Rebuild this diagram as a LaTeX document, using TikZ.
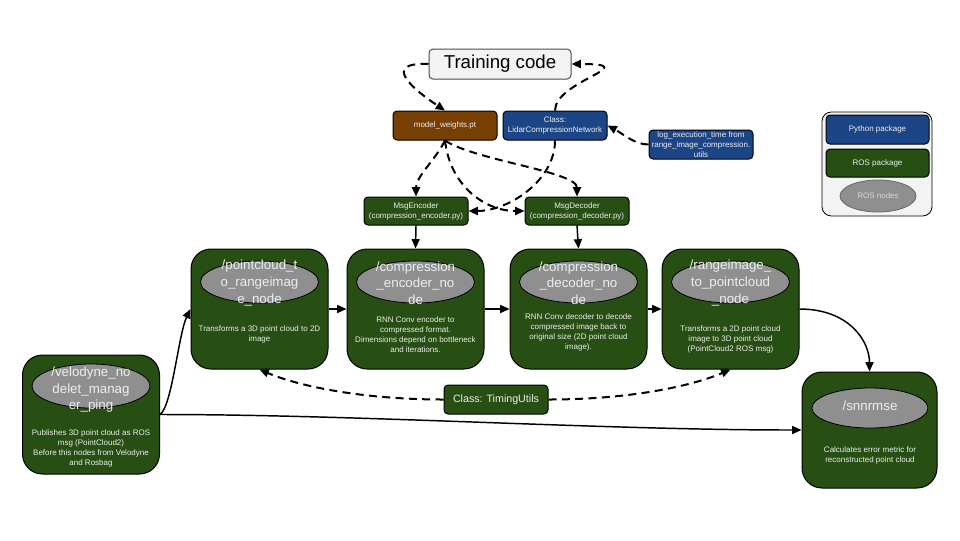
\documentclass[tikz,border=0pt]{standalone}
\usepackage{fontspec}
\setmainfont{Liberation Sans}
\usetikzlibrary{arrows.meta,shapes.geometric}
\definecolor{rosgreen}{HTML}{274E13}
\definecolor{pyblue}{HTML}{1C4587}
\definecolor{wbrown}{HTML}{783F04}
\definecolor{nodegray}{HTML}{8F8F8F}
\definecolor{lightbg}{HTML}{F3F3F3}
\definecolor{boxtext}{HTML}{EEEEEE}
\begin{document}
\begin{tikzpicture}[x=0.75pt,y=-0.75pt,
  rosbox/.style={draw=black, line width=0.75pt, fill=rosgreen, rounded corners=15pt, minimum width=102.75pt, minimum height=90pt, inner sep=0pt},
  smallbox/.style={draw=black, line width=0.75pt, rounded corners=3pt, minimum width=78pt, minimum height=21.75pt, inner sep=1pt, align=center, text=boxtext, font=\fontsize{6}{7.5}\selectfont},
  rosnode/.style={ellipse, draw=black, line width=0.6pt, fill=nodegray, minimum width=88.5pt, minimum height=31.5pt, inner sep=0pt},
  nodetext/.style={align=center, text=boxtext, font=\fontsize{10}{12.4}\selectfont, inner sep=0pt},
  desc/.style={align=center, text=boxtext, font=\fontsize{6}{7.5}\selectfont, inner sep=0pt},
  dep/.style={line width=1.5pt, dash pattern=on 6pt off 4pt, -{Triangle[length=7pt,width=6pt]}},
  flow/.style={line width=1.1pt, -{Triangle[length=7pt,width=6pt]}},
]
\fill[white] (0,0) rectangle (960,540);
\useasboundingbox (0,0) rectangle (960,540);

% top
\node[draw=black!70, line width=0.75pt, fill=lightbg, rounded corners=3pt, minimum width=106.5pt, minimum height=22.5pt, font=\fontsize{14}{16}\selectfont] (train) at (500,64) {Training code};
\node[smallbox, fill=wbrown] (mw) at (445,125.5) {model\_weights.pt};
\node[smallbox, fill=pyblue] (lidar) at (555,125.5) {Class:\\LidarCompressionNetwork};
\node[smallbox, fill=pyblue] (log) at (701,144.5) {log\_execution\_time from\\range\_image\_compression.\\utils};
\node[smallbox, fill=rosgreen, minimum height=21pt] (menc) at (416,211) {MsgEncoder\\(compression\_encoder.py)};
\node[smallbox, fill=rosgreen, minimum height=21pt] (mdec) at (577,211) {MsgDecoder\\(compression\_decoder.py)};

% main row
\node[rosbox] (b1) at (259.5,309) {};
\node[rosnode] (e1) at (259.5,282) {};
\node[nodetext] (n1) at (259.5,283) {/pointcloud\_t\\o\_rangeimag\\e\_node};
\node[desc] (d1) at (259.5,334) {Transforms a 3D point cloud to 2D\\image};

\node[rosbox] (b2) at (415.5,309) {};
\node[rosnode] (e2) at (415.5,282) {};
\node[nodetext] (n2) at (415.5,283) {/compression\\\_encoder\_no\\de};
\node[desc] (d2) at (415.5,335) {RNN Conv encoder to\\compressed format.\\Dimensions depend on bottleneck\\and iterations.};

\node[rosbox] (b3) at (578.5,309) {};
\node[rosnode] (e3) at (578.5,282) {};
\node[nodetext] (n3) at (578.5,283) {/compression\\\_decoder\_no\\de};
\node[desc] (d3) at (578.5,332) {RNN Conv decoder to decode\\compressed image back to\\original size (2D point cloud\\image).};

\node[rosbox] (b4) at (730.5,309) {};
\node[rosnode] (e4) at (730.5,282) {};
\node[nodetext] (n4) at (730.5,283) {/rangeimage\_\\to\_pointcloud\\\_node};
\node[desc] (d4) at (730.5,339) {Transforms a 2D point cloud\\image to 3D point cloud\\(PointCloud2 ROS msg)};

% velodyne
\node[rosbox, minimum height=89.25pt] (b0) at (91,414.5) {};
\node[rosnode, minimum height=33pt] (e0) at (91,386) {};
\node[nodetext] (n0) at (91,390) {/velodyne\_no\\delet\_manag\\er\_ping};
\node[desc] (d0) at (91,448) {Publishes 3D point cloud as ROS\\msg (PointCloud2)\\Before this nodes from Velodyne\\and Rosbag};

% snnrmse
\node[rosbox, minimum width=101.25pt, minimum height=87pt] (b5) at (869.5,430) {};
\node[rosnode, minimum width=87pt, minimum height=30pt] (e5) at (870,408) {};
\node[nodetext] (n5) at (870,406) {/snnrmse};
\node[desc] (d5) at (870,455) {Calculates error metric for\\reconstructed point cloud};

% timing utils
\node[smallbox, fill=rosgreen, font=\fontsize{8}{10}\selectfont] (tu) at (496,399.5) {Class: TimingUtils};

% legend
\node[draw=black, line width=0.6pt, fill=lightbg, rounded corners=7pt, minimum width=82.5pt, minimum height=78pt] (leg) at (877,164) {};
\node[smallbox, fill=pyblue, minimum width=77.25pt, minimum height=21.75pt] (lpy) at (877.5,129.5) {Python package};
\node[smallbox, fill=rosgreen, minimum width=77.25pt, minimum height=21pt] (lros) at (877.5,163) {ROS package};
\node[ellipse, draw=black!60, line width=0.6pt, fill=nodegray, minimum width=57pt, minimum height=24pt, inner sep=0pt, text=black!15, font=\fontsize{6}{7.5}\selectfont] (lnode) at (878,196) {ROS nodes};

% dependency connectors (dashed)
\draw[dep] (train.west) .. controls (380,62) and (414,90) .. (mw.north);
\draw[dep] (lidar.north) .. controls +(0,-30) and +(75,0) .. (train.east);
\draw[dep] (log.west) .. controls +(-14,0) and +(15,8) .. (lidar.east);
\draw[dep] (mw.south) .. controls +(-10,20) and +(0,-20) .. (menc.north);
\draw[dep] (mw.south) .. controls +(5,45) and +(-40,0) .. (mdec.west);
\draw[dep] (mw.south) .. controls +(30,20) and +(0,-25) .. (mdec.north);
\draw[dep] (lidar.south) .. controls +(0,40) and +(40,0) .. (menc.east);
\draw[dep] (tu.west) .. controls +(-80,0) and +(40,17) .. (b1.south);
\draw[dep] (tu.east) .. controls +(80,0) and +(-40,17) .. (b4.south);

% flow connectors (solid)
\draw[flow] (menc.south) -- (b2.north);
\draw[flow] (mdec.south) -- (b3.north);
\draw[flow] (b1.east) -- (b2.west);
\draw[flow] (b2.east) -- (b3.west);
\draw[flow] (b3.east) -- (b4.west);
\draw[flow] (b4.east) .. controls +(50,0) and +(0,-30) .. (b5.north);
\draw[flow] (b0.east) .. controls +(12,-8) and +(-12,25) .. (b1.west);
\draw[flow] (b0.east) .. controls +(200,0) and +(-200,0) .. (b5.west);
\end{tikzpicture}
\end{document}
